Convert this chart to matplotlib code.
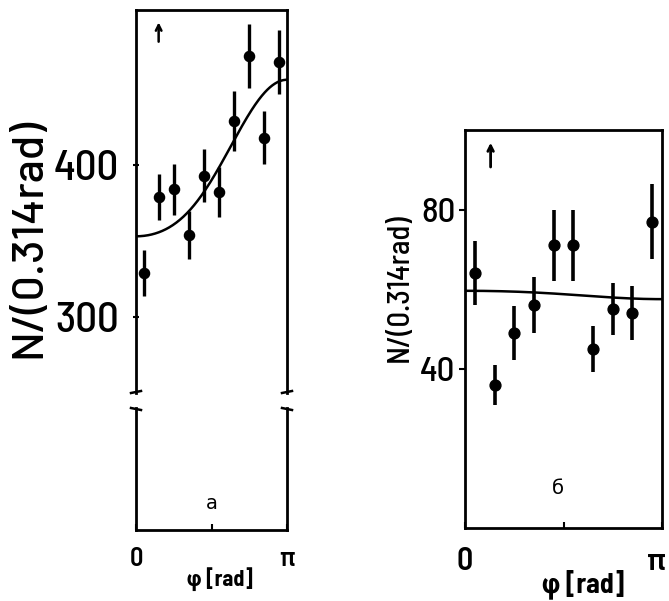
import numpy as np
import matplotlib
matplotlib.use("Agg")
import matplotlib.pyplot as plt
import matplotlib.transforms as mtransforms
from matplotlib import font_manager

# ---------------- data ----------------
phi_centers = [0.157, 0.471, 0.785, 1.100, 1.414, 1.728, 2.042, 2.356, 2.670, 2.985]
counts_a = [329, 379, 384, 354, 393, 382, 429, 472, 418, 468]
errors_a = [15, 15, 17, 16, 17.5, 16.5, 20, 21, 17.5, 21]
counts_b = [64, 36, 49, 56, 71, 71, 45, 55, 54, 77]
errors_b = [8, 5, 6.7, 7, 9, 9, 5.7, 6.6, 6.7, 9.4]
fit_a = [397.3, -51.5, 7.3]     # A + B cos(phi) + C cos(2 phi)
fit_b = [58.65, 1.05, -0.1]
yticks_a = [300, 400]
yticks_b = [40, 80]
xtick_labels = ["0", "", "π"]
ylabel_text = "N/(0.314rad)"
xlabel_text = "φ [rad]"
panel_labels = ["a", "б"]

names = {f.name for f in font_manager.fontManager.ttflist}


def pick(cands):
    for c in cands:
        if c in names:
            return c
    return "DejaVu Sans"


NARROW = pick(["Barlow Semi Condensed", "Barlow Condensed", "Roboto Condensed",
               "Liberation Sans Narrow", "Archivo Narrow", "PT Sans Narrow"])
REG = pick(["Barlow", "Liberation Sans", "Roboto"])
NARROW_L = [NARROW, "Roboto Condensed", "DejaVu Sans"]

W, H = 669, 601
fig = plt.figure(figsize=(W / 100, H / 100), dpi=100)


def box(x0, y0, x1, y1):
    return [x0 / W, 1 - y1 / H, (x1 - x0) / W, (y1 - y0) / H]


def fit_curve(p, phi):
    return p[0] + p[1] * np.cos(phi) + p[2] * np.cos(2 * phi)


phi = np.linspace(0, np.pi, 300)
LW = 2.0

# ---------- panel a (upper, with data) ----------
axu = fig.add_axes(box(136, 10, 287, 393))
axu.errorbar(phi_centers, counts_a, yerr=errors_a, fmt="o", color="black",
             ms=7.3, elinewidth=2.4, capsize=0)
axu.plot(phi, fit_curve(fit_a, phi), color="black", lw=1.8)
axu.set_xlim(0, np.pi)
axu.set_ylim(250, 502)
axu.spines["bottom"].set_visible(False)
for s in ["top", "left", "right"]:
    axu.spines[s].set_linewidth(LW)
axu.set_xticks([])
axu.set_yticks(yticks_a)
axu.set_yticklabels([str(v) for v in yticks_a], fontsize=31,
                    family=NARROW_L, fontweight="medium")
axu.tick_params(axis="y", direction="inout", length=5, width=1.5, pad=10)
axu.annotate("", xy=(0.15, 0.975), xytext=(0.15, 0.91),
             xycoords="axes fraction",
             arrowprops=dict(arrowstyle="->", lw=1.8, color="black"))

# ---------- panel a (lower, empty after break) ----------
axl = fig.add_axes(box(136, 408, 287, 530))
axl.set_xlim(0, np.pi)
axl.set_ylim(0, 1)
axl.spines["top"].set_visible(False)
for s in ["bottom", "left", "right"]:
    axl.spines[s].set_linewidth(LW)
axl.set_yticks([])
axl.set_xticks([0, np.pi / 2, np.pi])
axl.set_xticklabels(xtick_labels, fontsize=19, family=NARROW_L, fontweight="semibold")
axl.tick_params(axis="x", direction="in", length=4, width=1.5, pad=12)
axl.text(0.5, 0.22, panel_labels[0], transform=axl.transAxes,
         ha="center", va="center", fontsize=14, family="DejaVu Sans")
fig.text(220 / W, 1 - 579 / H, xlabel_text, ha="center", va="center",
         fontsize=16, family=NARROW_L, fontweight="bold")

# break marks
for xp in (136, 287):
    for yp, sgn in ((392, 1), (409, -1)):
        xs = np.array([xp - 5, xp, xp + 5]) / W
        ys = 1 - np.array([yp + sgn * 1, yp, yp - sgn * 1]) / H
        fig.add_artist(plt.Line2D(xs, ys, color="black", lw=1.8))

fig.text(29 / W, 1 - 238 / H, ylabel_text, rotation=90, ha="center",
         va="center", fontsize=32, family=[REG, "DejaVu Sans"], fontweight="medium")

# ---------- panel b ----------
axb = fig.add_axes(box(465, 130, 662, 528))
axb.errorbar(phi_centers, counts_b, yerr=errors_b, fmt="o", color="black",
             ms=7.8, elinewidth=2.6, capsize=0)
axb.plot(phi, fit_curve(fit_b, phi), color="black", lw=1.8)
axb.set_xlim(0, np.pi)
axb.set_ylim(0, 100)
for s in axb.spines.values():
    s.set_linewidth(LW)
axb.set_yticks(yticks_b)
axb.set_yticklabels([str(v) for v in yticks_b], fontsize=25,
                    family=NARROW_L, fontweight="medium")
axb.tick_params(axis="y", direction="out", length=4, width=1.5, pad=3)
axb.set_xticks([0, np.pi / 2, np.pi])
axb.set_xticklabels(xtick_labels, fontsize=23, family=NARROW_L, fontweight="semibold")
axb.tick_params(axis="x", direction="in", length=4, width=1.5, pad=14)
shift = mtransforms.ScaledTranslation(-6 / 100, 0, fig.dpi_scale_trans)
lab_pi = axb.get_xticklabels()[-1]
lab_pi.set_transform(lab_pi.get_transform() + shift)
axb.text(0.47, 0.1, panel_labels[1], transform=axb.transAxes,
         ha="center", va="center", fontsize=14, family="DejaVu Sans")
axb.annotate("", xy=(0.13, 0.975), xytext=(0.13, 0.9),
             xycoords="axes fraction",
             arrowprops=dict(arrowstyle="->", lw=2.0, color="black"))
fig.text(583 / W, 1 - 584 / H, xlabel_text, ha="center", va="center",
         fontsize=20, family=NARROW_L, fontweight="bold")
fig.text(400 / W, 1 - 288 / H, ylabel_text, rotation=90, ha="center",
         va="center", fontsize=22, family=NARROW_L, fontweight="medium")

fig.savefig("out.png", dpi=100)
